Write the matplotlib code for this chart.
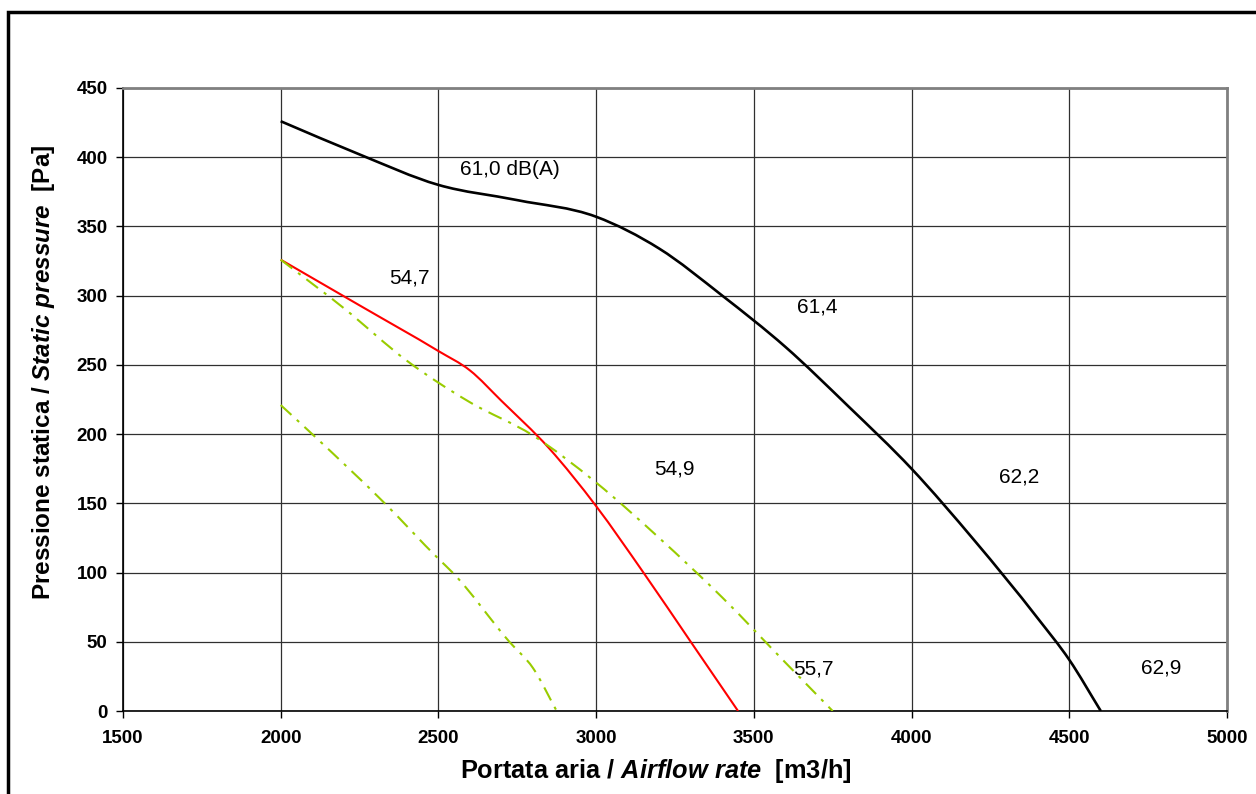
import matplotlib
matplotlib.use("Agg")
from matplotlib import pyplot as plt
from matplotlib.patches import Rectangle, PathPatch
from matplotlib.path import Path
import numpy as np

plt.rcParams['font.family'] = ['Liberation Sans', 'DejaVu Sans']
plt.rcParams['mathtext.fontset'] = 'custom'
plt.rcParams['mathtext.it'] = 'Liberation Sans:italic:bold'
plt.rcParams['mathtext.rm'] = 'Liberation Sans:bold'

# curve data (airflow m3/h, static pressure Pa)
black_x = [2000, 2250, 2500, 2750, 3000, 3200, 3400, 3600, 3800, 4000, 4200, 4400, 4500, 4600]
black_y = [426, 402, 380, 369, 357, 334, 300, 263, 220, 175, 123, 67, 37, 0]

red_x = [2000, 2250, 2500, 2600, 2700, 2850, 3000, 3150, 3300, 3450]
red_y = [326, 293, 260, 246, 224, 190, 148, 100, 50, 0]

green1_x = [2000, 2200, 2400, 2600, 2800, 3000, 3200, 3400, 3600, 3750]
green1_y = [326, 291, 253, 223, 199, 165, 125, 82, 35, 0]

green2_x = [2000, 2100, 2330, 2500, 2545, 2725, 2800, 2875]
green2_y = [221, 200, 150, 110, 100, 50, 31, 0]

# noise labels
label_text = ["61,0 dB(A)", "54,7", "61,4", "54,9", "62,2", "55,7", "62,9"]
label_x = [2728, 2407, 3702, 3248, 4340, 3690, 4791]
label_y = [391, 313, 292, 175, 169, 30, 31]


def smooth_path(xs, ys):
    # smoothed line: cubic hermite pieces drawn as beziers
    x = np.asarray(xs, float)
    y = np.asarray(ys, float)
    h = np.diff(x)
    d = np.diff(y) / h
    m = np.empty_like(x)
    m[0] = d[0]
    m[-1] = d[-1]
    m[1:-1] = (d[:-1] * h[1:] + d[1:] * h[:-1]) / (h[:-1] + h[1:])
    verts = [(x[0], y[0])]
    codes = [Path.MOVETO]
    for i in range(len(x) - 1):
        verts += [(x[i] + h[i] / 3, y[i] + m[i] * h[i] / 3),
                  (x[i + 1] - h[i] / 3, y[i + 1] - m[i + 1] * h[i] / 3),
                  (x[i + 1], y[i + 1])]
        codes += [Path.CURVE4] * 3
    return Path(verts, codes)


fig = plt.figure(figsize=(12.56, 7.94), dpi=100)
ax = fig.add_axes([0.0979, 0.1045, 0.8790, 0.7847])

green_dash = (0, (7, 3.5, 1.5, 3.5))
ax.add_patch(PathPatch(smooth_path(black_x, black_y), fill=False, edgecolor='black', lw=1.9, zorder=3))
ax.add_patch(PathPatch(smooth_path(red_x, red_y), fill=False, edgecolor='#ff0000', lw=1.5, zorder=3))
ax.add_patch(PathPatch(smooth_path(green1_x, green1_y), fill=False, edgecolor='#99cc00', lw=1.5,
                       linestyle=green_dash, zorder=3))
ax.add_patch(PathPatch(smooth_path(green2_x, green2_y), fill=False, edgecolor='#99cc00', lw=1.5,
                       linestyle=green_dash, zorder=3))

for t, x, y in zip(label_text, label_x, label_y):
    ax.text(x, y, t, ha='center', va='center', fontsize=15)

ax.set_xlim(1500, 5000)
ax.set_ylim(0, 450)
ax.set_xticks(range(1500, 5001, 500))
ax.set_yticks(range(0, 451, 50))
ax.grid(True, color='#303030', lw=0.9)
ax.set_axisbelow(True)
ax.tick_params(direction='out', length=5, width=1, labelsize=13.5, pad=6)
for lab in ax.get_xticklabels() + ax.get_yticklabels():
    lab.set_fontweight('bold')
ax.tick_params(axis='x', pad=9)

ax.spines['left'].set_color('black')
ax.spines['bottom'].set_color('black')
ax.spines['left'].set_linewidth(1.2)
ax.spines['bottom'].set_linewidth(1.2)
ax.spines['top'].set_color('#808080')
ax.spines['right'].set_color('#808080')
ax.spines['top'].set_linewidth(2)
ax.spines['right'].set_linewidth(2)

# axis titles, placed where the original has them
fig.text(656 / 1256, 1 - 771 / 794, r'Portata aria / $Airflow\ rate$  [m3/h]',
         fontsize=18.3, fontweight='bold', ha='center', va='center')
fig.text(44 / 1256, 1 - 372 / 794, r'Pressione statica / $Static\ pressure$  [Pa]',
         fontsize=17.5, fontweight='bold', ha='center', va='center', rotation=90)

# outer frame of the chart area
fig.patches.append(Rectangle((8 / 1256, -0.1), 1.1, 1 - 11.5 / 794 + 0.1, transform=fig.transFigure,
                             fill=False, edgecolor='black', lw=2.5))

fig.savefig('out.png', dpi=100)
